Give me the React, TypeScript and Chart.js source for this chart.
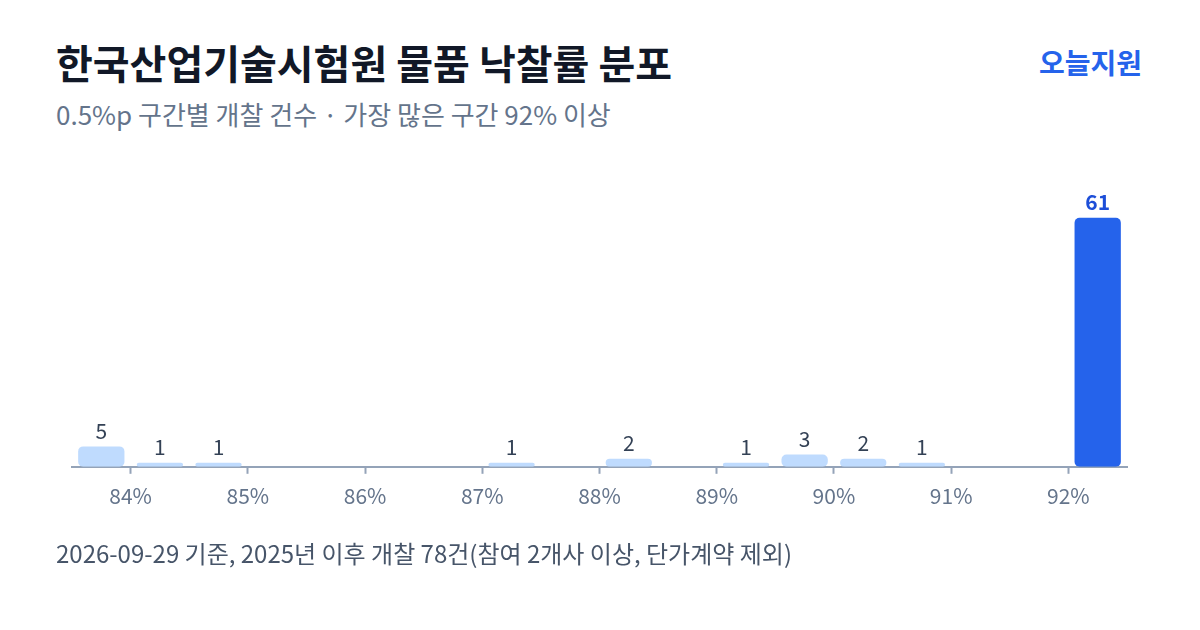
import { useEffect, useRef } from 'react';
import Chart from 'chart.js/auto';

// 0.5%p bins, each value is the lower edge of the bin
const binStarts = [83.5, 84, 84.5, 85, 85.5, 86, 86.5, 87, 87.5, 88, 88.5, 89, 89.5, 90, 90.5, 91, 91.5, 92];
const counts = [5, 1, 1, 0, 0, 0, 0, 1, 0, 2, 0, 1, 3, 2, 1, 0, 0, 61];
const tickValues = [84, 85, 86, 87, 88, 89, 90, 91, 92];

const FONT = '"Noto Sans CJK KR", "Noto Sans", sans-serif';
const BLUE = '#2563eb';
const LIGHT = '#bfdbfe';
const AXIS = '#94a3b8';

const peak = Math.max(...counts);

const valueLabels = {
  id: 'valueLabels',
  afterDatasetsDraw(chart: Chart) {
    const { ctx } = chart;
    const meta = chart.getDatasetMeta(0);
    meta.data.forEach((bar: any, i: number) => {
      const v = counts[i];
      if (!v) return;
      const isPeak = v === peak;
      ctx.save();
      ctx.font = `${isPeak ? 700 : 400} 21px ${FONT}`;
      ctx.fillStyle = isPeak ? '#1d4ed8' : '#334155';
      ctx.textAlign = 'center';
      ctx.textBaseline = 'bottom';
      ctx.fillText(String(v), bar.x, bar.y - 5);
      ctx.restore();
    });
  },
};

function Histogram() {
  const canvasRef = useRef<HTMLCanvasElement>(null);

  useEffect(() => {
    const canvas = canvasRef.current;
    if (!canvas) return;

    const chart = new Chart(canvas, {
      type: 'bar',
      data: {
        datasets: [
          {
            data: binStarts.map((b, i) => ({ x: b + 0.25, y: counts[i] })),
            backgroundColor: counts.map((c) => (c === peak ? BLUE : LIGHT)),
            borderRadius: 5,
            borderSkipped: false,
            categoryPercentage: 1,
            barPercentage: 0.79,
          },
        ],
      },
      options: {
        animation: false,
        responsive: true,
        maintainAspectRatio: false,
        layout: { padding: { left: 72, right: 73, top: 31, bottom: 21 } },
        plugins: {
          legend: { display: false },
          tooltip: { enabled: false },
        },
        scales: {
          x: {
            type: 'linear',
            min: 83.5,
            max: 92.5,
            offset: false,
            afterBuildTicks: (axis) => {
              axis.ticks = tickValues.map((v) => ({ value: v }));
            },
            ticks: {
              callback: (v) => `${v}%`,
              color: '#64748b',
              font: { family: FONT, size: 21 },
              padding: 10,
              maxRotation: 0,
            },
            grid: {
              offset: false,
              drawOnChartArea: false,
              drawTicks: true,
              tickLength: 7,
              tickWidth: 2,
              tickColor: AXIS,
            },
            border: { display: true, color: AXIS, width: 2 },
          },
          y: {
            display: false,
            min: 0,
            max: 70,
          },
        },
      },
      plugins: [valueLabels],
    });

    return () => chart.destroy();
  }, []);

  return <canvas ref={canvasRef} />;
}

export default function App() {
  return (
    <div
      style={{
        position: 'absolute',
        left: 0,
        top: 0,
        width: 1200,
        height: 630,
        background: '#ffffff',
        fontFamily: FONT,
        overflow: 'hidden',
      }}
    >
      <div
        style={{
          position: 'absolute',
          left: 56,
          top: 42,
          fontSize: 40,
          fontWeight: 700,
          color: '#111827',
          lineHeight: 1,
          whiteSpace: 'nowrap',
        }}
      >
        한국산업기술시험원 물품 낙찰률 분포
      </div>
      <div
        style={{
          position: 'absolute',
          right: 58,
          top: 48,
          fontSize: 28,
          fontWeight: 700,
          color: BLUE,
          lineHeight: 1,
        }}
      >
        오늘지원
      </div>
      <div
        style={{
          position: 'absolute',
          left: 56,
          top: 98,
          fontSize: 26,
          color: '#64748b',
          lineHeight: 1.2,
          whiteSpace: 'nowrap',
        }}
      >
        0.5%p 구간별 개찰 건수 · 가장 많은 구간 92% 이상
      </div>
      <div style={{ position: 'absolute', left: 0, top: 150, width: 1200, height: 390 }}>
        <Histogram />
      </div>
      <div
        style={{
          position: 'absolute',
          left: 56,
          top: 539,
          fontSize: 24,
          color: '#475569',
          lineHeight: 1.2,
          whiteSpace: 'nowrap',
        }}
      >
        2026-09-29 기준, 2025년 이후 개찰 78건(참여 2개사 이상, 단가계약 제외)
      </div>
    </div>
  );
}
